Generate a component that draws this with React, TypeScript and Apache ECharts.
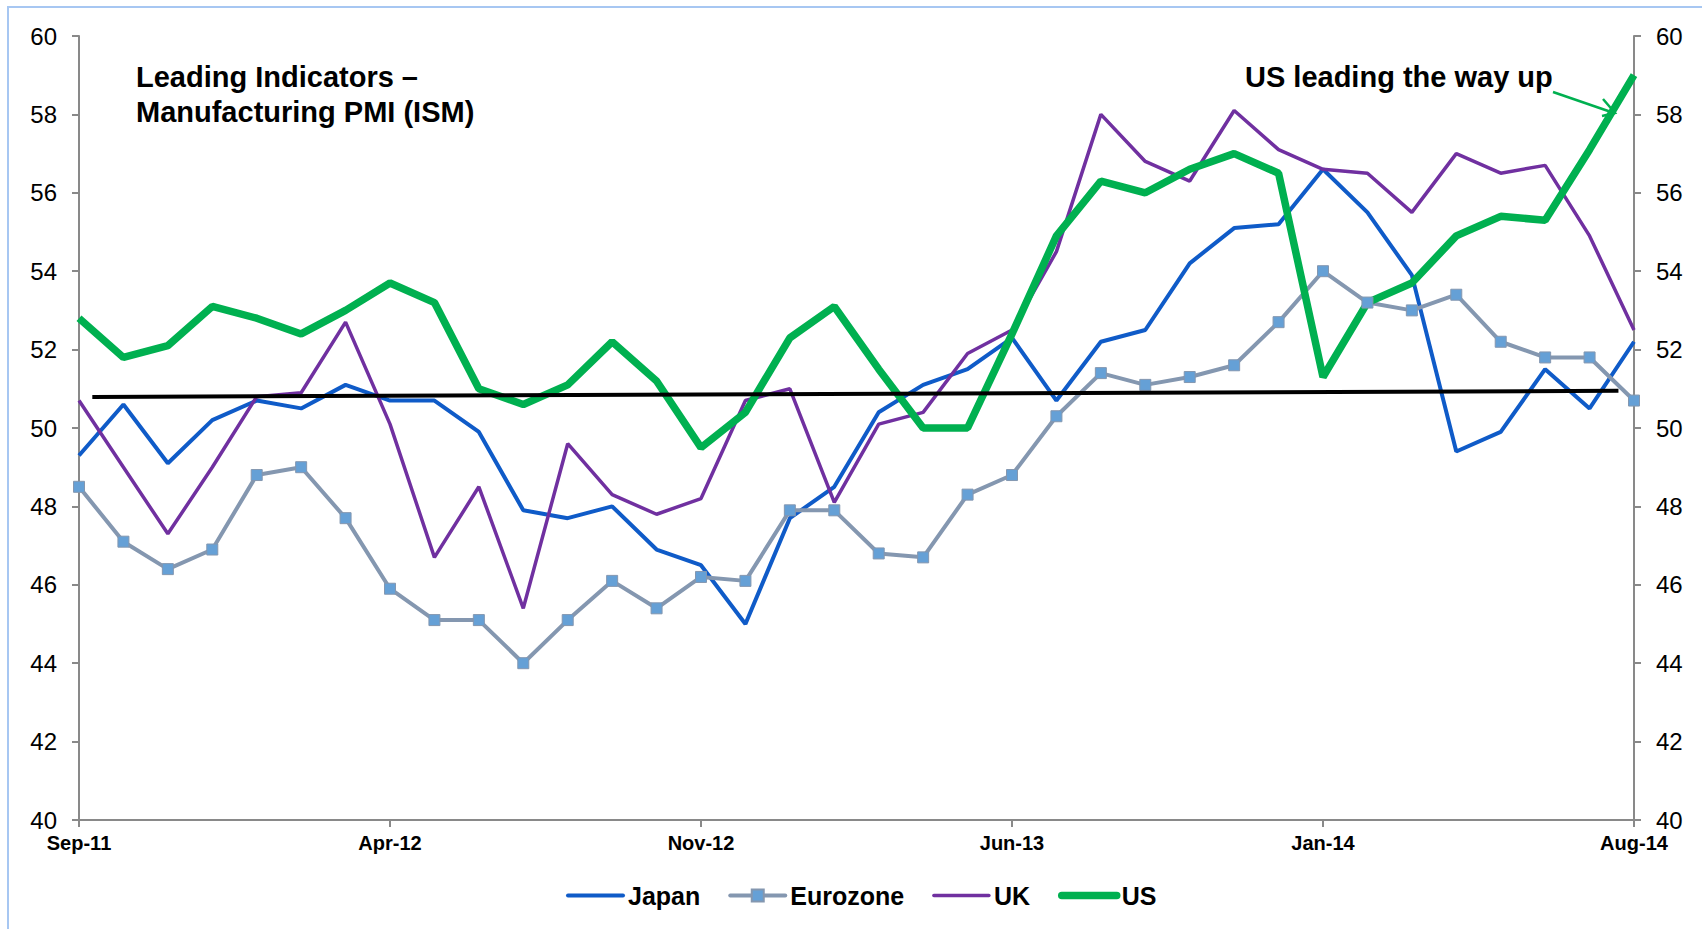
import React, { useEffect, useRef } from "react";
import * as echarts from "echarts";

const months = [
  "Sep-11", "Oct-11", "Nov-11", "Dec-11", "Jan-12", "Feb-12", "Mar-12", "Apr-12",
  "May-12", "Jun-12", "Jul-12", "Aug-12", "Sep-12", "Oct-12", "Nov-12", "Dec-12",
  "Jan-13", "Feb-13", "Mar-13", "Apr-13", "May-13", "Jun-13", "Jul-13", "Aug-13",
  "Sep-13", "Oct-13", "Nov-13", "Dec-13", "Jan-14", "Feb-14", "Mar-14", "Apr-14",
  "May-14", "Jun-14", "Jul-14", "Aug-14",
];

const japan = [
  49.3, 50.6, 49.1, 50.2, 50.7, 50.5, 51.1, 50.7, 50.7, 49.9, 47.9, 47.7,
  48.0, 46.9, 46.5, 45.0, 47.7, 48.5, 50.4, 51.1, 51.5, 52.3, 50.7, 52.2,
  52.5, 54.2, 55.1, 55.2, 56.6, 55.5, 53.9, 49.4, 49.9, 51.5, 50.5, 52.2,
];

const eurozone = [
  48.5, 47.1, 46.4, 46.9, 48.8, 49.0, 47.7, 45.9, 45.1, 45.1, 44.0, 45.1,
  46.1, 45.4, 46.2, 46.1, 47.9, 47.9, 46.8, 46.7, 48.3, 48.8, 50.3, 51.4,
  51.1, 51.3, 51.6, 52.7, 54.0, 53.2, 53.0, 53.4, 52.2, 51.8, 51.8, 50.7,
];

const uk = [
  50.7, 49.0, 47.3, 49.0, 50.8, 50.9, 52.7, 50.1, 46.7, 48.5, 45.4, 49.6,
  48.3, 47.8, 48.2, 50.7, 51.0, 48.1, 50.1, 50.4, 51.9, 52.5, 54.5, 58.0,
  56.8, 56.3, 58.1, 57.1, 56.6, 56.5, 55.5, 57.0, 56.5, 56.7, 54.9, 52.5,
];

const us = [
  52.8, 51.8, 52.1, 53.1, 52.8, 52.4, 53.0, 53.7, 53.2, 51.0, 50.6, 51.1,
  52.2, 51.2, 49.5, 50.4, 52.3, 53.1, 51.5, 50.0, 50.0, 52.4, 54.9, 56.3,
  56.0, 56.6, 57.0, 56.5, 51.3, 53.2, 53.7, 54.9, 55.4, 55.3, 57.1, 59.0,
];

// trend line endpoints: [month position, value]
const trendLine = [
  [0.3, 50.79],
  [34.65, 50.95],
];

const yTicks = { min: 40, max: 60, interval: 2 };

const FONT = "'Liberation Sans', Arial, Helvetica, sans-serif";

export default function App() {
  const ref = useRef<HTMLDivElement>(null);

  useEffect(() => {
    if (!ref.current) return;
    const chart = echarts.init(ref.current, null, { renderer: "svg" });
    const axisGrey = "#898989";
    const showTick = (i: number) => i % 7 === 0;

    const yAxisBase = {
      type: "value",
      min: yTicks.min,
      max: yTicks.max,
      interval: yTicks.interval,
      axisLine: { show: true, lineStyle: { color: axisGrey, width: 2 } },
      axisTick: { show: true, length: 7, lineStyle: { color: axisGrey, width: 2 } },
      splitLine: { show: false },
      axisLabel: { color: "#000", fontSize: 24, fontFamily: FONT, margin: 22 },
    };

    const hiddenSymbol = { itemStyle: { opacity: 0 } };

    chart.setOption({
      animation: false,
      backgroundColor: "#ffffff",
      grid: { left: 79, right: 68, top: 36, bottom: 109, containLabel: false },
      xAxis: [
        {
          type: "category",
          data: months,
          boundaryGap: false,
          axisLine: { lineStyle: { color: axisGrey, width: 2 } },
          axisTick: { interval: showTick, length: 7, lineStyle: { color: axisGrey, width: 2 } },
          axisLabel: {
            interval: showTick,
            color: "#000",
            fontSize: 20,
            fontWeight: "bold",
            fontFamily: FONT,
            margin: 13,
          },
          splitLine: { show: false },
        },
        { type: "value", min: 0, max: months.length - 1, show: false },
      ],
      yAxis: [
        { ...yAxisBase, position: "left" },
        { ...yAxisBase, position: "right" },
      ],
      legend: {
        data: [
          { name: "Japan", ...hiddenSymbol },
          { name: "Eurozone" },
          { name: "UK", ...hiddenSymbol },
          { name: "US", ...hiddenSymbol },
        ],
        left: 566,
        top: 883,
        padding: 0,
        itemWidth: 55,
        itemHeight: 15,
        itemGap: 28,
        lineStyle: { width: "inherit", cap: "round" },
        textStyle: { color: "#000", fontSize: 25, fontWeight: "bold", fontFamily: FONT },
      },
      series: [
        {
          name: "Japan",
          type: "line",
          data: japan,
          symbol: "none",
          lineStyle: { color: "#0F5BC8", width: 4 },
          itemStyle: { color: "#0F5BC8" },
        },
        {
          name: "Eurozone",
          type: "line",
          data: eurozone,
          symbol: "rect",
          symbolSize: 11,
          lineStyle: { color: "#8497B0", width: 4 },
          itemStyle: { color: "#65A0D6", borderColor: "#8497B0", borderWidth: 1 },
        },
        {
          name: "UK",
          type: "line",
          data: uk,
          symbol: "none",
          lineStyle: { color: "#7030A0", width: 3.5 },
          itemStyle: { color: "#7030A0" },
        },
        {
          name: "US",
          type: "line",
          data: us,
          symbol: "none",
          lineStyle: { color: "#00B050", width: 7.5 },
          itemStyle: { color: "#00B050" },
        },
        {
          name: "Trend",
          type: "line",
          xAxisIndex: 1,
          yAxisIndex: 0,
          data: trendLine,
          symbol: "none",
          lineStyle: { color: "#000000", width: 4 },
          z: 5,
        },
      ],
      graphic: [
        {
          type: "rect",
          shape: { x: 8, y: 7, width: 1800, height: 1000 },
          style: { fill: "none", stroke: "#A7C7F2", lineWidth: 2 },
          z: -1,
          silent: true,
        },
        {
          type: "text",
          x: 136,
          y: 59.5,
          style: {
            text: "Leading Indicators –\nManufacturing PMI (ISM)",
            font: `bold 29px ${FONT}`,
            fill: "#000",
            lineHeight: 35,
            verticalAlign: "top",
          },
        },
        {
          type: "text",
          x: 1245,
          y: 77,
          style: {
            text: "US leading the way up",
            font: `bold 29px ${FONT}`,
            fill: "#000",
            verticalAlign: "middle",
          },
        },
        {
          type: "line",
          shape: { x1: 1553, y1: 92, x2: 1614, y2: 113 },
          style: { stroke: "#00B050", lineWidth: 2.5 },
        },
        {
          type: "polyline",
          shape: { points: [[1603, 99], [1615, 113], [1602, 116]] },
          style: { stroke: "#00B050", lineWidth: 2.5, fill: "none" },
        },
      ],
    });

    return () => chart.dispose();
  }, []);

  return (
    <div
      style={{ position: "fixed", left: 0, top: 0, width: 1702, height: 929, background: "#fff" }}
    >
      <div ref={ref} style={{ width: 1702, height: 929 }} />
    </div>
  );
}
